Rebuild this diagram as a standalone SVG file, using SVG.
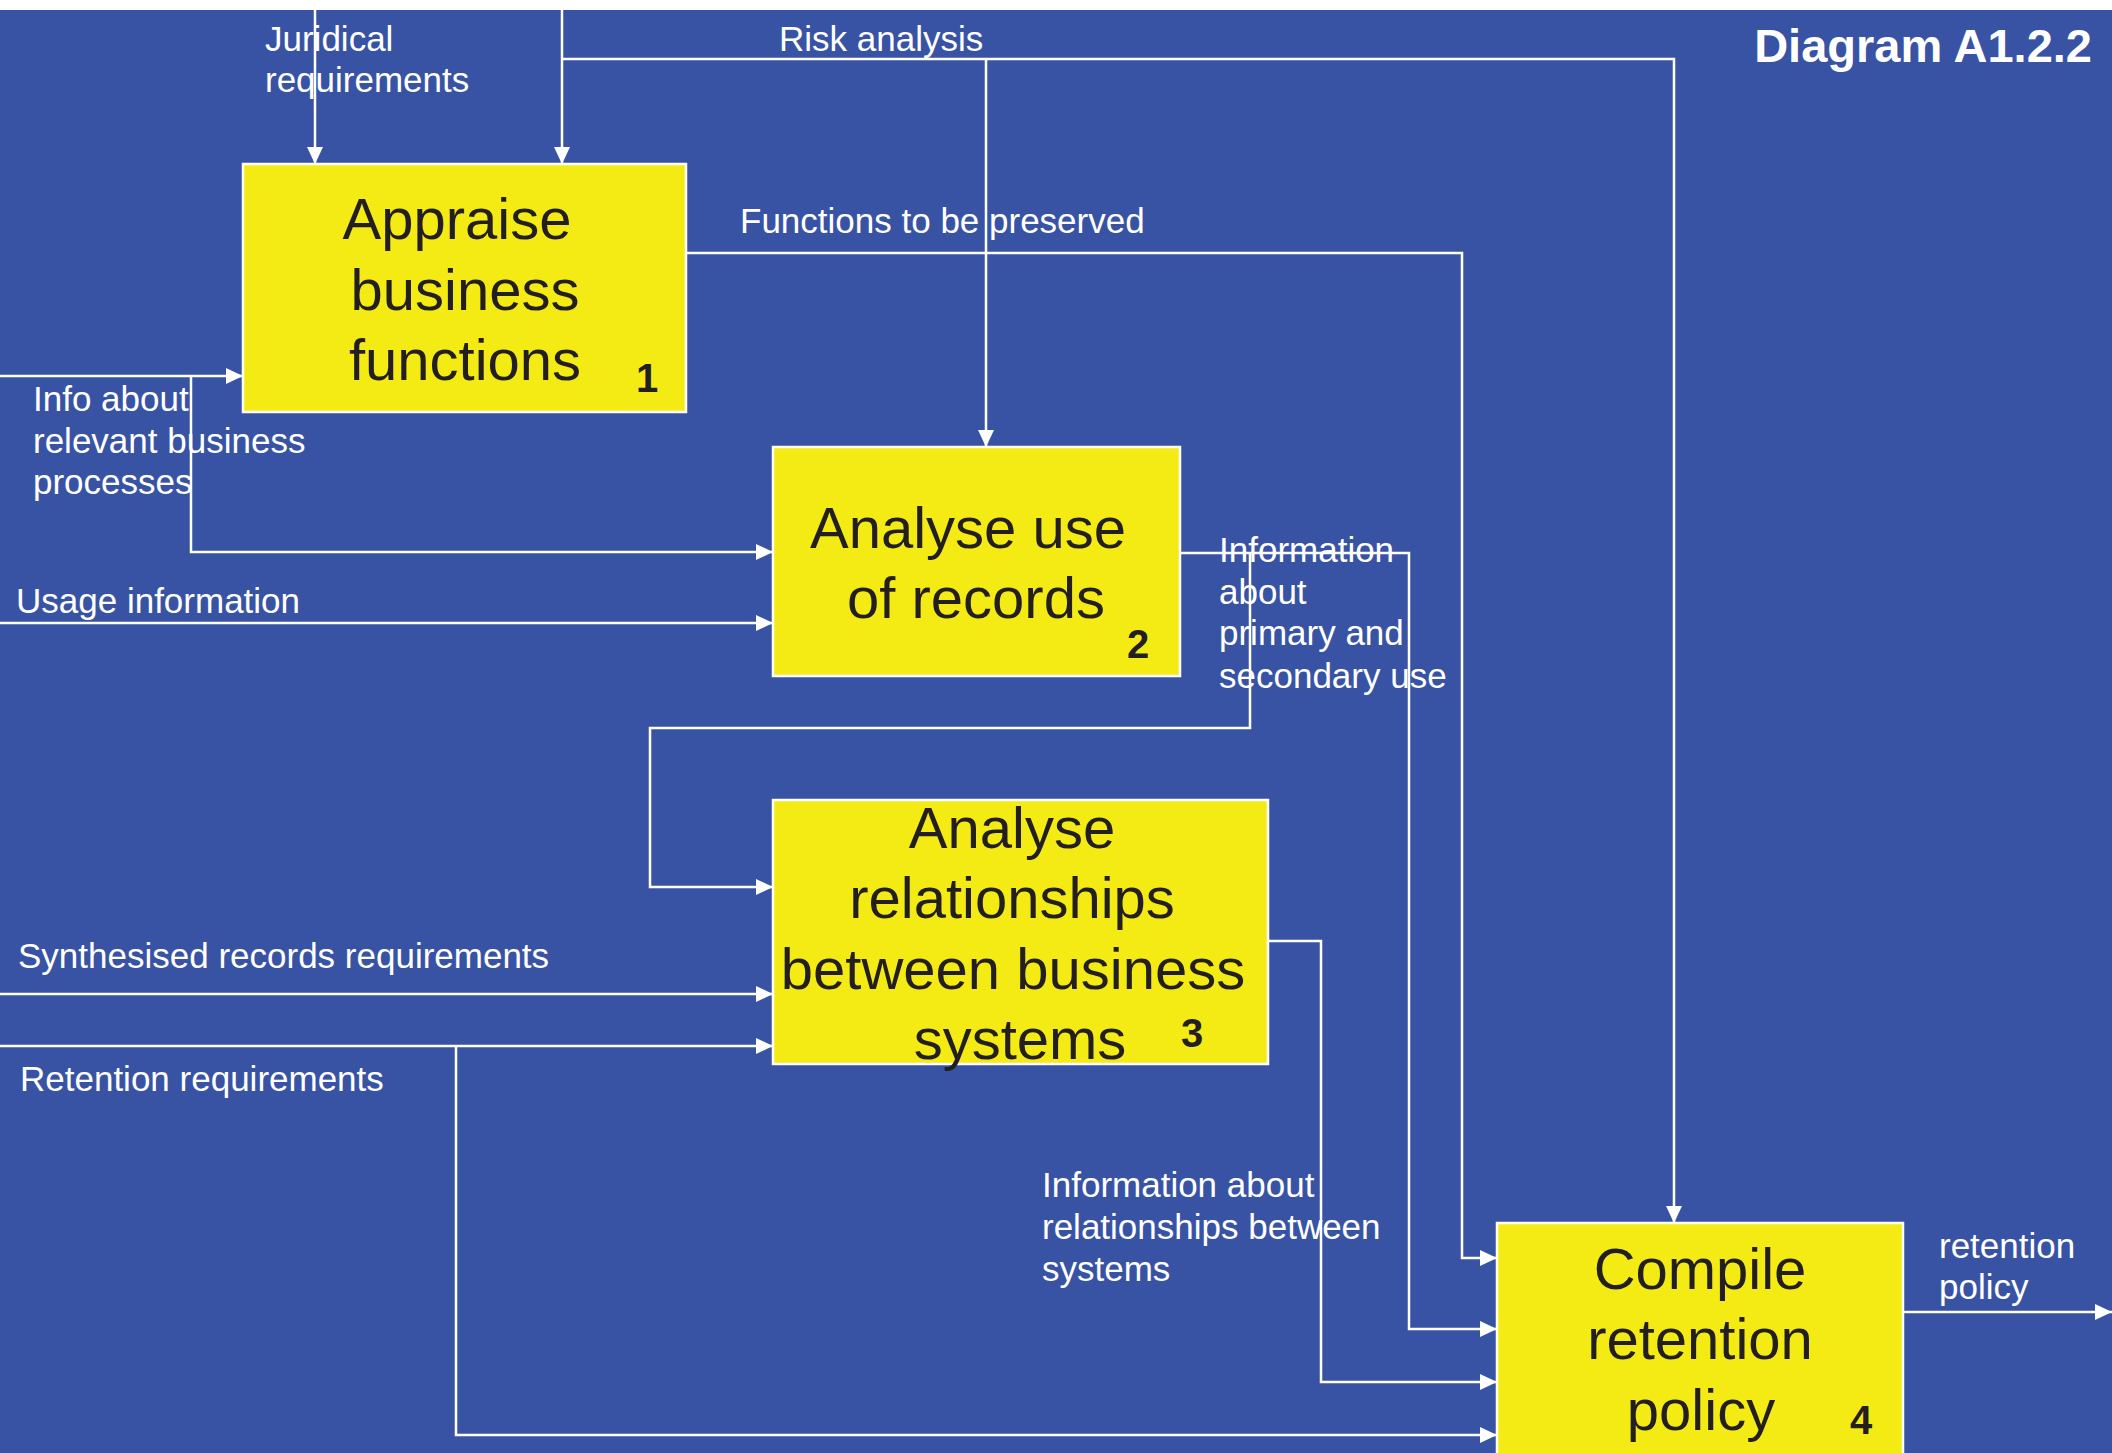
<svg xmlns="http://www.w3.org/2000/svg" width="2112" height="1453" viewBox="0 0 2112 1453">
  <style>
    .bg { fill: #3953A4; }
    .box { fill: #F5EB14; stroke: #FFFFFF; stroke-width: 2.5; }
    .title { font-family: "Liberation Sans", Arial, sans-serif; font-size: 58px; fill: #231F20; text-anchor: middle; }
    .num { font-family: "Liberation Sans", Arial, sans-serif; font-size: 40px; font-weight: bold; fill: #231F20; text-anchor: middle; }
    .lbl { font-family: "Liberation Sans", Arial, sans-serif; font-size: 35px; fill: #FFFFFF; }
    .head { font-family: "Liberation Sans", Arial, sans-serif; font-size: 47px; font-weight: bold; fill: #FFFFFF; }
    .wire { fill: none; stroke: #FFFFFF; stroke-width: 2.5; }
  </style>
  <defs>
    <marker id="arrow" markerUnits="userSpaceOnUse" markerWidth="18" markerHeight="17" refX="17" refY="8" orient="auto">
      <path d="M0,0 L17,8 L0,16 Z" fill="#FFFFFF"/>
    </marker>
  </defs>

  <!-- page -->
  <rect x="0" y="0" width="2112" height="1453" fill="#FFFFFF"/>
  <rect class="bg" x="0" y="10" width="2112" height="1443"/>

  <text class="head" x="2092" y="62" text-anchor="end">Diagram A1.2.2</text>

  <!-- connectors -->
  <g id="connectors">
    <path class="wire" d="M315,10 V164" marker-end="url(#arrow)"/>
    <path class="wire" d="M562,10 V164" marker-end="url(#arrow)"/>
    <path class="wire" d="M562,59 H1674 V1223" marker-end="url(#arrow)"/>
    <path class="wire" d="M986,59 V447" marker-end="url(#arrow)"/>
    <path class="wire" d="M686,253 H1462 V1258 H1497" marker-end="url(#arrow)"/>
    <path class="wire" d="M0,376 H243" marker-end="url(#arrow)"/>
    <path class="wire" d="M191,376 V552 H773" marker-end="url(#arrow)"/>
    <path class="wire" d="M0,623 H773" marker-end="url(#arrow)"/>
    <path class="wire" d="M1180,553 H1409 V1329 H1497" marker-end="url(#arrow)"/>
    <path class="wire" d="M1250,553 V728 H650 V887 H773" marker-end="url(#arrow)"/>
    <path class="wire" d="M1268,941 H1321 V1382 H1497" marker-end="url(#arrow)"/>
    <path class="wire" d="M0,994 H773" marker-end="url(#arrow)"/>
    <path class="wire" d="M0,1046 H773" marker-end="url(#arrow)"/>
    <path class="wire" d="M456,1046 V1435 H1497" marker-end="url(#arrow)"/>
    <path class="wire" d="M1903,1312 H2112" marker-end="url(#arrow)"/>
  </g>

  <!-- arrow labels -->
  <g id="labels">
    <text class="lbl" x="265" y="51">Juridical</text>
    <text class="lbl" x="265" y="92">requirements</text>
    <text class="lbl" x="779" y="51">Risk analysis</text>
    <text class="lbl" x="740" y="233">Functions to be preserved</text>
    <text class="lbl" x="33" y="411">Info about</text>
    <text class="lbl" x="33" y="453">relevant business</text>
    <text class="lbl" x="33" y="494">processes</text>
    <text class="lbl" x="16" y="613">Usage information</text>
    <text class="lbl" x="1219" y="562">Information</text>
    <text class="lbl" x="1219" y="604">about</text>
    <text class="lbl" x="1219" y="645">primary and</text>
    <text class="lbl" x="1219" y="688">secondary use</text>
    <text class="lbl" x="18" y="968">Synthesised records requirements</text>
    <text class="lbl" x="20" y="1091">Retention requirements</text>
    <text class="lbl" x="1042" y="1197">Information about</text>
    <text class="lbl" x="1042" y="1239">relationships between</text>
    <text class="lbl" x="1042" y="1281">systems</text>
    <text class="lbl" x="1939" y="1258">retention</text>
    <text class="lbl" x="1939" y="1299">policy</text>
  </g>

  <!-- activity 1 -->
  <g id="node-1">
    <rect class="box" x="243" y="164" width="443" height="248"/>
    <text class="title" x="457" y="239">Appraise</text>
    <text class="title" x="465" y="310">business</text>
    <text class="title" x="465" y="380">functions</text>
    <text class="num" x="647" y="392">1</text>
  </g>

  <!-- activity 2 -->
  <g id="node-2">
    <rect class="box" x="773" y="447" width="407" height="229"/>
    <text class="title" x="968" y="548">Analyse use</text>
    <text class="title" x="976" y="618">of records</text>
    <text class="num" x="1138" y="658">2</text>
  </g>

  <!-- activity 3 -->
  <g id="node-3">
    <rect class="box" x="773" y="800" width="495" height="264"/>
    <text class="title" x="1012" y="848">Analyse</text>
    <text class="title" x="1012" y="918">relationships</text>
    <text class="title" x="1013" y="989">between business</text>
    <text class="title" x="1020" y="1059">systems</text>
    <text class="num" x="1192" y="1047">3</text>
  </g>

  <!-- activity 4 -->
  <g id="node-4">
    <rect class="box" x="1497" y="1223" width="406" height="240"/>
    <text class="title" x="1700" y="1289">Compile</text>
    <text class="title" x="1700" y="1359">retention</text>
    <text class="title" x="1701" y="1430">policy</text>
    <text class="num" x="1861" y="1434">4</text>
  </g>
</svg>
